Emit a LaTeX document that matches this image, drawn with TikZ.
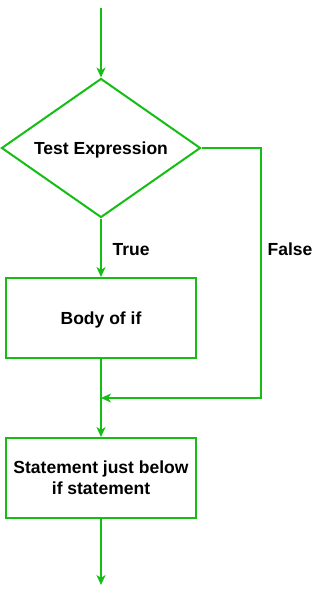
\documentclass[tikz,border=0pt]{standalone}
\usepackage{fontspec}
\setmainfont{Liberation Sans}
\usetikzlibrary{shapes.geometric,arrows.meta}
\definecolor{flowgreen}{RGB}{20,190,20}
\begin{document}
\begin{tikzpicture}[x=1pt,y=1pt,
  every node/.style={font=\fontsize{17.5}{21}\selectfont\bfseries,text depth=0pt},
  conn/.style={draw=flowgreen,line width=2pt},
  arr/.style={conn,-{Stealth[length=10pt,width=9pt,inset=3pt]}},
  boxstyle/.style={draw=flowgreen,line width=2pt,rectangle,minimum width=190pt,minimum height=80pt,inner sep=0pt,align=center,fill=white},
  decstyle/.style={draw=flowgreen,line width=2pt,diamond,aspect=1.43,minimum width=199pt,minimum height=139pt,inner sep=0pt,fill=white}]
\useasboundingbox (0,0) rectangle (314,-597);
\coordinate (start) at (101,-8);
\node[decstyle] (test) at (101,-148) {Test Expression};
\node[boxstyle] (body) at (101,-318) {Body of if};
\node[boxstyle] (stmt) at (101,-478) {Statement just below\\if statement};
\coordinate (end) at (101,-585);
\coordinate (c1) at (261,-148);
\coordinate (c2) at (261,-398);
\coordinate (join) at (101,-398);
\draw[arr] (start) -- (test.north);
\draw[arr] (test.south) -- (body.north);
\draw[arr] (body.south) -- (stmt.north);
\draw[arr] (test.east) -- (c1) -- (c2) -- (join);
\draw[arr] (stmt.south) -- (end);
\node (truelbl) at (131,-249) {True};
\node (falselbl) at (290,-249) {False};
\end{tikzpicture}
\end{document}
